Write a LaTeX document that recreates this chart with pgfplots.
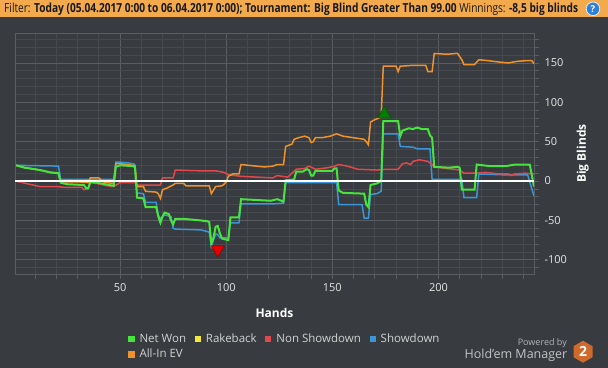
\documentclass[border=0pt]{standalone}
\usepackage{fontspec}
\setmainfont{Open Sans}
\usepackage{graphicx}
\usepackage{pgfplots}
\pgfplotsset{compat=1.18}
\definecolor{bg}{HTML}{383B3F}
\definecolor{hdr}{HTML}{F2AA4C}
\definecolor{gridmaj}{HTML}{5A5E62}
\definecolor{gridmin}{HTML}{46494D}
\definecolor{ticktext}{HTML}{E6E6E6}
\definecolor{legtext}{HTML}{D2D2D2}
\definecolor{cnet}{HTML}{46E43C}
\definecolor{crake}{HTML}{F2E93A}
\definecolor{cnon}{HTML}{E0484C}
\definecolor{csd}{HTML}{3A96D6}
\definecolor{cev}{HTML}{F0922C}
\definecolor{qblue}{HTML}{2F7FD6}
\definecolor{hexc}{HTML}{CF6A2C}

\begin{document}
\begin{tikzpicture}
\fill[bg] (0,0) rectangle (608bp,368bp);
\fill[hdr] (0,350.5bp) rectangle (608bp,368bp);
\node[anchor=west, inner sep=0pt, text=black!90] at (4bp,359.2bp)
  {\resizebox{574bp}{\height}{\fontsize{12.5bp}{14bp}\selectfont Filter: \textbf{Today (05.04.2017 0:00 to 06.04.2017 0:00); Tournament: Big Blind Greater Than 99.00} Winnings: \textbf{-8,5 big blinds}}};
\fill[qblue, draw=white!85!qblue, line width=0.8bp] (593bp,359.2bp) circle (6.8bp);
\node[text=white, inner sep=0pt, font=\bfseries\fontsize{9.5bp}{10bp}\selectfont] at (593bp,359.2bp) {?};

\begin{axis}[
  at={(15bp,94bp)}, anchor=south west,
  scale only axis, width=519bp, height=241bp,
  xmin=0.5, xmax=245, ymin=-118, ymax=188,
  xtick={50,100,150,200},
  minor xtick={10,20,30,40,60,70,80,90,110,120,130,140,160,170,180,190,210,220,230,240},
  ytick={-100,-50,0,50,100,150},
  minor ytick={-110,-90,-80,-70,-60,-40,-30,-20,-10,10,20,30,40,60,70,80,90,110,120,130,140,160,170,180},
  grid=both,
  major grid style={color=gridmaj, line width=0.8bp},
  minor grid style={color=gridmin, line width=0.8bp},
  axis line style={color=gridmaj, line width=0.8bp},
  tick style={color=gridmaj, line width=0.8bp},
  tick align=outside,
  major tick length=5bp, minor tick length=5bp,
  xtick pos=bottom, ytick pos=right, yticklabel pos=right,
  /pgf/number format/assume math mode=true,
  ticklabel style={font=\fontsize{11bp}{13bp}\selectfont, text=ticktext},
  yticklabel style={anchor=west, xshift=2bp},
  xticklabel style={anchor=north, yshift=-1bp},
  xlabel={Hands}, ylabel={Big Blinds},
  every axis x label/.style={at={(axis description cs:0.5,-0.1606)}, anchor=center,
     font=\bfseries\fontsize{12bp}{14bp}\selectfont, text=white},
  every axis y label/.style={at={(axis description cs:1.0938,0.5)}, rotate=90, anchor=center,
     font=\bfseries\fontsize{12bp}{14bp}\selectfont, text=white},
  legend columns=4,
  legend cell align=left,
  legend style={at={(axis description cs:0.218,-0.240)}, anchor=north west,
    draw=none, fill=none, text=legtext, font=\fontsize{11.5bp}{13bp}\selectfont,
    inner sep=0pt, row sep=2bp,
    nodes={inner sep=1.6bp},
    /tikz/every odd column/.append style={column sep=4bp},
    /tikz/every even column/.append style={column sep=7bp}},
  legend image code/.code={\fill[#1] (0bp,-2.6bp) rectangle (5.2bp,2.6bp);},
]
% draw order: showdown, non showdown, all-in EV, rakeback, net won
\addplot[csd, line width=1.5bp, forget plot] coordinates {
(1,20) (21,19) (22,2) (47,2) (48,24) (50,24) (54,23) (56,22) (57,21) (58,-15) (61,-16) (62,-27) (67,-27) (68,-43) (69,-48) (70,-45) (71,-43) (74,-45) (75,-60) (76,-61) (88,-62) (91,-64) (92,-65) (93,-83) (95,-67) (96,-68) (97,-72) (101,-72) (102,-53) (106,-53) (107,-29) (122,-29) (127,-28) (128,-2) (152,-2) (153,-30) (164,-30) (165,-47) (167,-47) (168,-17) (171,-16) (173,-13) (174,60) (181,60) (182,44) (188,43) (190,41) (196,41) (197,2) (211,2) (212,-21) (218,-21) (219,9) (230,8) (242,8) (245,-19)
};
\addplot[cnon, line width=1.5bp, forget plot] coordinates {
(1,0) (4,-2) (9,-5) (12,-7) (20,-7) (24,-8) (32,-8) (33,-11) (35,-10) (36,-2) (39,-3) (44,-6) (47,-7) (50,-2) (57,-2) (58,-5) (69,-5) (70,4) (75,4) (76,14) (88,13) (95,13) (99,11) (101,8) (107,6) (122,4) (124,7) (129,5) (133,15) (137,16) (139,19) (142,15) (148,17) (151,19) (153,21) (157,19) (162,15) (171,14) (176,15) (181,15) (183,22) (185,23) (187,21) (188,25) (191,27) (195,25) (197,21) (198,18) (210,14) (212,10) (218,10) (222,11) (229,9) (233,9) (234,7) (236,9) (241,10) (245,9)
};
\addplot[cev, line width=1.5bp, forget plot] coordinates {
(1,20) (5,17) (10,15) (14,13) (17,11) (21,10) (22,-1) (30,-1) (35,-2) (36,4) (40,4) (42,-1) (44,-2) (47,-3) (48,22) (50,22) (56,20) (57,19) (58,-7) (61,-7) (62,-13) (67,-14) (68,-16) (69,-22) (70,-11) (72,-9) (75,-5) (76,-3) (80,-3) (81,-6) (88,-6) (92,-6) (93,-16) (95,-7) (98,-6) (99,-4) (100,-1) (101,6) (103,9) (106,9) (107,21) (114,19) (118,18) (122,19) (124,21) (127,21) (128,44) (130,46) (131,47) (132,53) (134,55) (137,57) (139,55) (140,49) (141,50) (142,55) (145,55) (149,57) (152,60) (155,57) (160,55) (165,53) (166,50) (167,46) (168,75) (170,78) (172,80) (173,82) (174,146) (180,146) (181,139) (182,146) (183,146) (188,147) (194,147) (195,139) (197,139) (198,162) (204,161) (208,162) (209,162) (211,154) (212,148) (217,148) (219,154) (223,153) (229,151) (233,150) (235,151) (237,152) (242,153) (244,153) (245,149)
};
\addplot[crake, line width=1.5bp, forget plot] coordinates {(1,0) (245,0)};
\addplot[cnet, line width=2bp, forget plot] coordinates {
(1,20) (5,17) (10,15) (14,13) (17,11) (21,10) (22,-2) (25,-4) (33,-5) (34,-9) (35,-9) (36,-1) (39,-2) (43,-4) (47,-6) (48,18) (50,20) (56,19) (57,18) (58,-21) (61,-22) (62,-33) (67,-33) (68,-45) (69,-53) (70,-45) (71,-40) (73,-42) (74,-50) (75,-55) (76,-48) (80,-48) (88,-50) (91,-51) (92,-52) (93,-79) (94,-72) (95,-58) (96,-57) (97,-66) (98,-73) (101,-75) (102,-46) (106,-46) (107,-23) (114,-24) (121,-25) (124,-23) (126,-25) (127,-26) (128,1) (132,2) (133,12) (136,12) (138,15) (139,14) (140,7) (141,7) (142,13) (150,13) (151,16) (152,16) (153,-12) (155,-15) (165,-16) (166,-30) (167,-33) (168,-5) (171,-3) (173,0) (174,76) (181,76) (182,57) (183,64) (186,67) (188,66) (190,68) (192,66) (195,66) (196,58) (197,55) (198,18) (205,17) (209,18) (210,17) (211,-11) (217,-11) (218,21) (224,19) (232,19) (236,21) (243,21) (245,-7)
};
% zero line
\addplot[white, line width=2.2bp, forget plot] coordinates {(0.5,0) (245,0)};
% min / max markers
\addplot[only marks, mark=triangle*, mark size=7.5bp, forget plot,
  mark options={fill=red!90!black, draw=red!60!black, rotate=180, line width=0.6bp}] coordinates {(96,-87)};
\addplot[only marks, mark=triangle*, mark size=7.5bp, forget plot,
  mark options={fill=green!50!black, draw=green!35!black, line width=0.6bp}] coordinates {(174.5,85)};
% legend
\addlegendimage{color=cnet}\addlegendentry{Net Won}
\addlegendimage{color=crake}\addlegendentry{Rakeback}
\addlegendimage{color=cnon}\addlegendentry{Non Showdown}
\addlegendimage{color=csd}\addlegendentry{Showdown}
\addlegendimage{color=cev}\addlegendentry{All-In EV}
\end{axis}

% Powered by logo
\node[anchor=east, inner sep=0pt, text=white!62!bg, font=\fontsize{9bp}{10bp}\selectfont] at (567bp,25.3bp) {Powered by};
\node[anchor=east, inner sep=0pt, text=white!70!bg, font=\fontsize{12.5bp}{14bp}\selectfont] at (567.5bp,13bp) {Hold'em Manager};
\fill[hexc] (583bp,27.3bp) -- (592.5bp,21.8bp) -- (592.5bp,10.8bp) -- (583bp,5.3bp) -- (573.5bp,10.8bp) -- (573.5bp,21.8bp) -- cycle;
\node[text=white, inner sep=0pt, font=\bfseries\fontsize{14bp}{14bp}\selectfont] at (583bp,16.3bp) {2};

\pgfresetboundingbox
\path[use as bounding box] (0,0) rectangle (608bp,368bp);
\end{tikzpicture}
\end{document}
